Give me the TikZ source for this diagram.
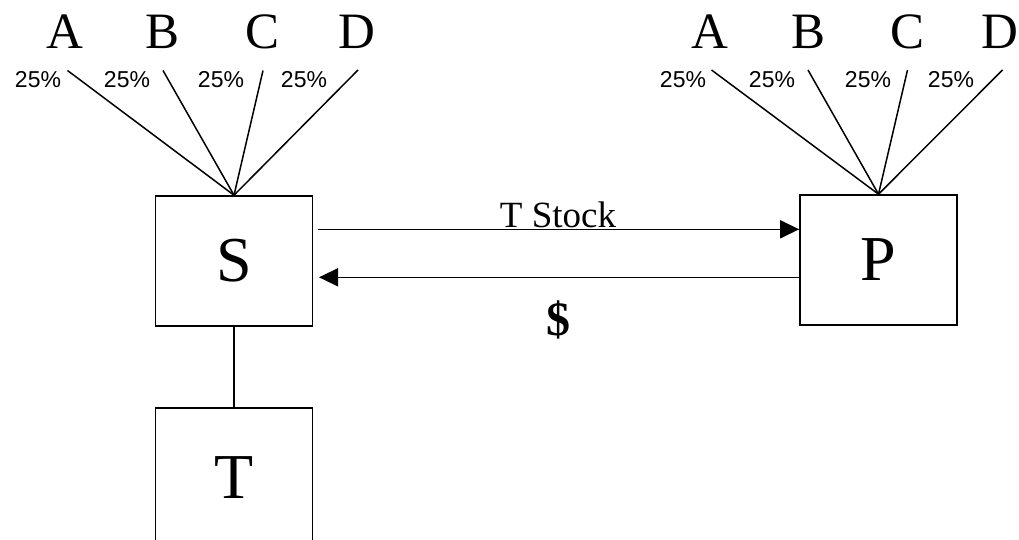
\documentclass[tikz,border=0pt]{standalone}
\usepackage{fontspec}
\setmainfont{Liberation Serif}
\newfontfamily\pctfont{Liberation Sans}
\usetikzlibrary{arrows.meta}
\begin{document}
\begin{tikzpicture}[x=1pt,y=-1pt,
  box/.style={draw,line width=1.6pt,inner sep=0pt,minimum width=157pt,minimum height=130pt,font=\fontsize{64}{64}\selectfont},
  letter/.style={inner sep=0pt,font=\fontsize{51}{51}\selectfont},
  pct/.style={inner sep=0pt,font=\pctfont\fontsize{23}{23}\selectfont},
  fan/.style={line width=1.5pt},
  flow/.style={line width=1.5pt,-{Triangle[length=19pt,width=18pt]}}]
\useasboundingbox (0,0) rectangle (1019,539);
% boxes
\node[box] (S) at (234,261) {S};
\node[box] (P) at (878.5,260) {P};
\node[box,minimum height=140pt] (T) at (234,478) {T};
\draw[line width=1.5pt] (S.south) -- (T.north);
% left fan
\coordinate (SL1) at (67.5,70.5);
\coordinate (SL2) at (163,70.5);
\coordinate (SL3) at (263,70.5);
\coordinate (SL4) at (358,70);
\foreach \i in {1,...,4}{\draw[fan] (S.north) -- (SL\i);}
\node[letter] (SA) at (65,32) {A};
\node[letter] (SB) at (163,32) {B};
\node[letter] (SC) at (263,32) {C};
\node[letter] (SD) at (357,32) {D};
\node[pct] (Sp1) at (38,80) {25\%};
\node[pct] (Sp2) at (127,80) {25\%};
\node[pct] (Sp3) at (221,80) {25\%};
\node[pct] (Sp4) at (304,80) {25\%};
% right fan
\coordinate (PL1) at (711.5,70);
\coordinate (PL2) at (808,70);
\coordinate (PL3) at (907.5,70);
\coordinate (PL4) at (1002.5,70);
\foreach \i in {1,...,4}{\draw[fan] (P.north) -- (PL\i);}
\node[letter] (PA) at (710,32) {A};
\node[letter] (PB) at (808,32) {B};
\node[letter] (PC) at (907,32) {C};
\node[letter] (PD) at (1000,32) {D};
\node[pct] (Pp1) at (683,80) {25\%};
\node[pct] (Pp2) at (772,80) {25\%};
\node[pct] (Pp3) at (868,80) {25\%};
\node[pct] (Pp4) at (951,80) {25\%};
% flows
\coordinate (t1) at (318,229.3);
\coordinate (b1) at (319,277.3);
\draw[flow] (t1) -- (P.west |- t1);
\draw[flow] (P.west |- b1) -- (b1);
\node[inner sep=0pt,anchor=base,font=\fontsize{37}{37}\selectfont] (lab1) at (558,227) {T Stock};
\node[inner sep=0pt,font=\bfseries\fontsize{48}{48}\selectfont] (lab2) at (558,320) {\$};
\end{tikzpicture}
\end{document}
